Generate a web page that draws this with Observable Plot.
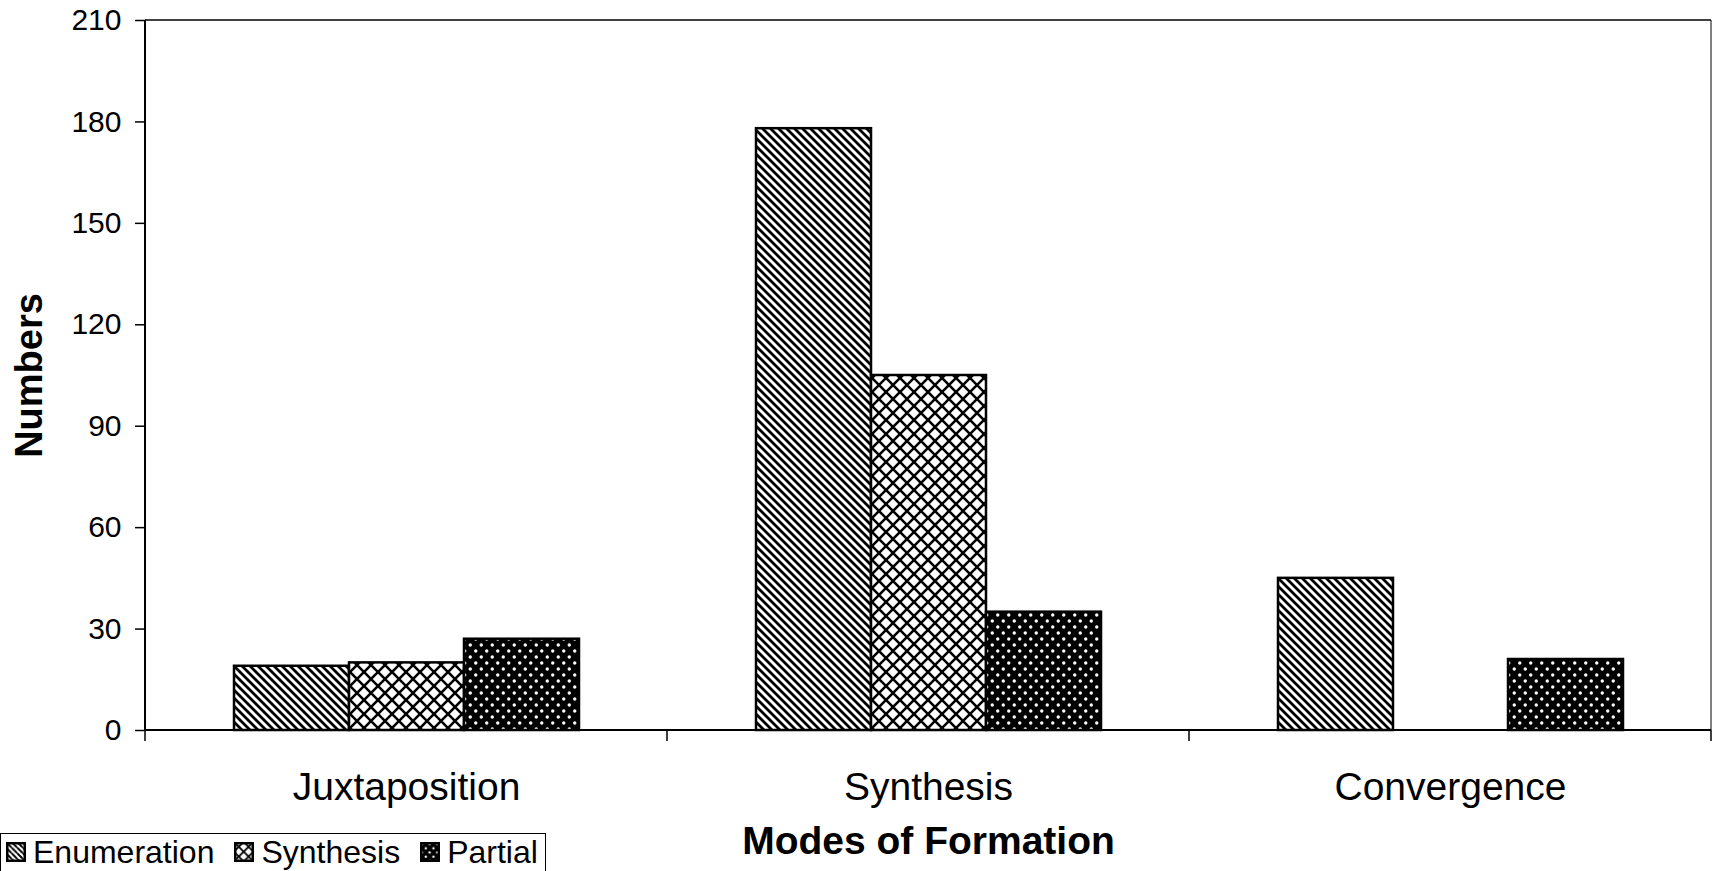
<!DOCTYPE html>
<html>
<head>
<meta charset="utf-8">
<script src="https://cdn.jsdelivr.net/npm/d3@7"></script>
<script src="https://cdn.jsdelivr.net/npm/@observablehq/plot@0.6"></script>
<style>
  html, body { margin: 0; padding: 0; background: #fff; }
  #wrap { position: relative; width: 1725px; height: 871px; overflow: hidden; font-family: "Liberation Sans", Arial, sans-serif; }
  #wrap svg { display: block; }
  g[aria-label="fx-axis tick label"] { font-size: 39px; }
  g[aria-label="fx-axis label"] { font-size: 39px; font-weight: bold; }
  g[aria-label="y-axis label"] { font-size: 38px; font-weight: bold; }
  g[aria-label="y-axis tick label"] { font-size: 30px; }
  g[aria-label="y-axis tick"] { stroke-width: 1.5; }
  #legend { position: absolute; left: 0; top: 833px; width: 546px; height: 60px; border: 1px solid #000; background: #fff; box-sizing: border-box; }
  #legend .row { display: flex; align-items: center; height: 36px; padding-left: 5px; font-size: 32px; color: #000; white-space: nowrap; }
  #legend .item { display: flex; align-items: center; margin-right: 20px; }
  #legend svg { width: 20px; height: 20px; margin-right: 7px; }
</style>
</head>
<body>
<div id="wrap">
  <div id="chart"></div>
  <div id="legend"><div class="row" id="legendRow"></div></div>
</div>
<script>
// ---- data ----
const categories = ["Juxtaposition", "Synthesis", "Convergence"];
const seriesNames = ["Enumeration", "Synthesis", "Partial"];
const enumerationValues = [19, 178, 45];
const synthesisValues = [20, 105, 0];
const partialValues = [27, 35, 21];
const yTicks = [0, 30, 60, 90, 120, 150, 180, 210];
const xTitle = "Modes of Formation";
const yTitle = "Numbers";

const patternIds = { Enumeration: "pat-enum", Synthesis: "pat-syn", Partial: "pat-part" };
const valuesBySeries = { Enumeration: enumerationValues, Synthesis: synthesisValues, Partial: partialValues };

const rows = [];
for (const s of seriesNames) {
  categories.forEach((c, i) => {
    const v = valuesBySeries[s][i];
    if (v > 0) rows.push({ category: c, series: s, value: v });
  });
}

const plot = Plot.plot({
  width: 1725,
  height: 871,
  marginLeft: 145,
  marginRight: 14,
  marginTop: 20,
  marginBottom: 141,
  style: { fontFamily: "'Liberation Sans', Arial, sans-serif", fontSize: "30px", color: "#000", background: "#fff" },
  fx: { domain: categories, padding: 0, tickSize: 0, tickPadding: 42, label: xTitle, labelAnchor: "center", labelOffset: 123 },
  x: { domain: seriesNames, paddingInner: 0, paddingOuter: 0.755, axis: null },
  y: { domain: [0, 210], ticks: yTicks, tickSize: 10, tickPadding: 14, label: yTitle, labelAnchor: "center", labelOffset: 130, labelArrow: "none" },
  marks: seriesNames.map(s =>
    Plot.barY(rows.filter(d => d.series === s), {
      fx: "category", x: "series", y: "value",
      fill: `url(#${patternIds[s]})`, stroke: "#000", strokeWidth: 2.5
    })
  )
});

document.getElementById("chart").appendChild(plot);

// ---- patterns ----
const svg = d3.select(plot);
const defs = svg.insert("defs", ":first-child");
function addPatterns(defsSel, suffix, scale) {
  const pe = defsSel.append("pattern").attr("id", "pat-enum" + suffix).attr("patternUnits", "userSpaceOnUse")
    .attr("width", 8 * scale).attr("height", 8 * scale);
  pe.append("rect").attr("width", 8 * scale).attr("height", 8 * scale).attr("fill", "#fff");
  pe.append("path").attr("d", `M-2,-2L${10*scale},${10*scale}M-2,${6*scale}L${2*scale},${10*scale}M${6*scale},-2L${10*scale},${2*scale}`)
    .attr("stroke", "#000").attr("stroke-width", 2.8 * scale);
  const ps = defsSel.append("pattern").attr("id", "pat-syn" + suffix).attr("patternUnits", "userSpaceOnUse")
    .attr("width", 14 * scale).attr("height", 14 * scale);
  ps.append("rect").attr("width", 14 * scale).attr("height", 14 * scale).attr("fill", "#fff");
  ps.append("path").attr("d", `M-1,-1L${15*scale},${15*scale}M${15*scale},-1L-1,${15*scale}`)
    .attr("stroke", "#000").attr("stroke-width", 2.6 * scale);
  const pp = defsSel.append("pattern").attr("id", "pat-part" + suffix).attr("patternUnits", "userSpaceOnUse")
    .attr("width", 11 * scale).attr("height", 12 * scale);
  pp.append("rect").attr("width", 11 * scale).attr("height", 12 * scale).attr("fill", "#000");
  pp.append("circle").attr("cx", 2.75 * scale).attr("cy", 3 * scale).attr("r", 1.7 * scale).attr("fill", "#fff");
  pp.append("circle").attr("cx", 8.25 * scale).attr("cy", 9 * scale).attr("r", 1.7 * scale).attr("fill", "#fff");
}
addPatterns(defs, "", 1);

// ---- frame, axis lines and category boundary ticks from the plot's scales ----
const fx = plot.scale("fx"), y = plot.scale("y");
const xStart = fx.apply(categories[0]);
const xEnd = fx.apply(categories[categories.length - 1]) + fx.bandwidth;
const yTop = y.apply(yTicks[yTicks.length - 1]), yBase = y.apply(0);
const g = svg.append("g").attr("fill", "none").attr("stroke", "#000");
g.append("line").attr("x1", xStart).attr("x2", xEnd).attr("y1", yTop).attr("y2", yTop).attr("stroke-width", 1.5);
g.append("line").attr("x1", xEnd).attr("x2", xEnd).attr("y1", yTop).attr("y2", yBase).attr("stroke-width", 1);
g.append("line").attr("x1", xStart).attr("x2", xStart).attr("y1", yTop).attr("y2", yBase).attr("stroke-width", 2);
g.append("line").attr("x1", xStart).attr("x2", xEnd).attr("y1", yBase).attr("y2", yBase).attr("stroke-width", 2);
const bounds = categories.map(c => fx.apply(c)).concat([xEnd]);
for (const bx of bounds) {
  g.append("line").attr("x1", bx).attr("x2", bx).attr("y1", yBase).attr("y2", yBase + 11).attr("stroke-width", 1.5);
}

// ---- legend ----
const legendRow = d3.select("#legendRow");
for (const s of seriesNames) {
  const item = legendRow.append("div").attr("class", "item");
  const sw = item.append("svg").attr("viewBox", "0 0 20 20");
  const d = sw.append("defs");
  addPatterns(d, "-lg-" + s, 0.7);
  sw.append("rect").attr("x", 1.25).attr("y", 1.25).attr("width", 17.5).attr("height", 17.5)
    .attr("fill", `url(#${patternIds[s]}-lg-${s})`).attr("stroke", "#000").attr("stroke-width", 2.5);
  item.append("span").text(s);
}
</script>
</body>
</html>
